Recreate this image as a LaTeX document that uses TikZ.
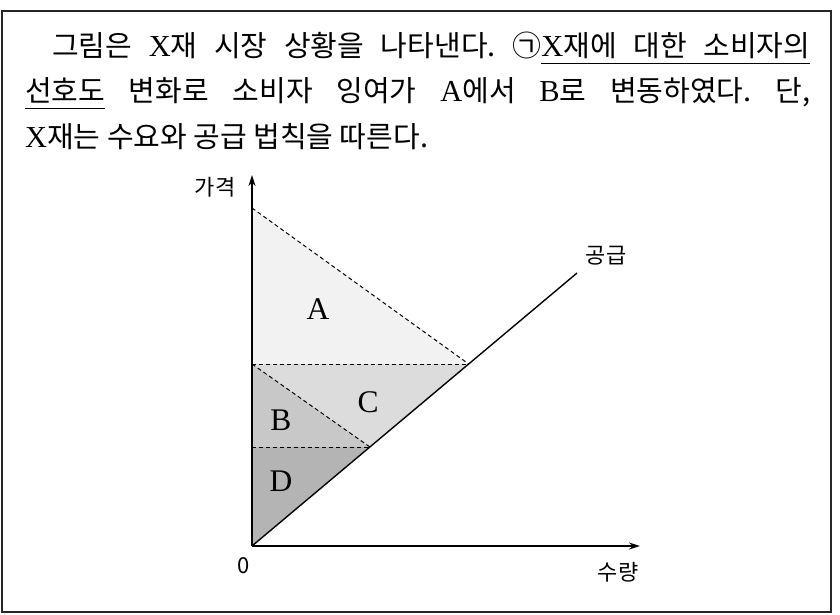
\documentclass[tikz,border=0pt]{standalone}
\usepackage{fontspec}
\newfontfamily\kr{Noto Sans CJK KR}
\newfontfamily\lat[Scale=1.05]{Liberation Serif}
\usetikzlibrary{arrows.meta}
% underlined word and stretchable underlined space
\newcommand\ulw[1]{\setbox0\hbox{#1}\rlap{\rule[-8pt]{\wd0}{1.3pt}}\box0\relax}
\newcommand\uls{\leaders\hrule height -6.7pt depth 8pt\hskip\fontdimen2\font plus \fontdimen3\font minus \fontdimen4\font\relax}
\definecolor{fillA}{HTML}{F2F2F2}
\definecolor{fillC}{HTML}{DCDCDC}
\definecolor{fillB}{HTML}{C8C8C8}
\definecolor{fillD}{HTML}{B4B4B4}
\frenchspacing
\tikzset{
  txtline/.style={anchor=base west, inner sep=0pt, font=\kr\fontsize{29}{33}\selectfont\frenchspacing},
  axis/.style={line width=1.7pt, -{Stealth[length=11pt,width=7pt]}},
  dashline/.style={line width=1pt, dash pattern=on 4pt off 3pt},
  supplyline/.style={line width=1.4pt},
  arealabel/.style={inner sep=0pt, font=\lat\fontsize{30}{34}\selectfont},
  axislabel/.style={inner sep=0pt, font=\kr\fontsize{22}{26}\selectfont},
  frame/.style={line width=1.8pt, black!85}
}
\begin{document}
\begin{tikzpicture}[x=1pt,y=-1pt]
\useasboundingbox (0,0) rectangle (840,614);
\fill[white] (0,0) rectangle (840,614);
\draw[frame] (2,11) rectangle (831,612);

% text
\node[txtline] (l1) at (52,56) {\makebox[758pt][s]{그림은 {\lat X}재 시장 상황을 나타낸다. ㉠\ulw{{\lat X}재에}\uls\ulw{대한}\uls\ulw{소비자의}}};
\node[txtline] (l2) at (25,101) {\makebox[785pt][s]{\ulw{선호도} 변화로 소비자 잉여가 {\lat A}에서 {\lat B}로 변동하였다. 단,}};
\node[txtline] (l3) at (25,147) {{\lat X}재는 수요와 공급 법칙을 따른다.};

% coordinates
\coordinate (O) at (252,546);
\coordinate (Ytop) at (252,175);
\coordinate (Xend) at (640,546);
\coordinate (Dtop) at (252,208);
\coordinate (P1) at (252,364);
\coordinate (P2) at (252,447);
\coordinate (E1) at (468.7,364);
\coordinate (E2) at (369.9,447);
\coordinate (S) at (577,273);

% fills
\fill[fillA] (Dtop) -- (E1) -- (P1) -- cycle;
\fill[fillC] (P1) -- (E1) -- (E2) -- (P2) -- cycle;
\fill[fillB] (P1) -- (E2) -- (P2) -- cycle;
\fill[fillD] (P2) -- (E2) -- (O) -- cycle;

% dashed lines
\draw[dashline] (Dtop) -- (E1);
\draw[dashline] (P1) -- (E1);
\draw[dashline] (P1) -- (E2);
\draw[dashline] (P2) -- (E2);

% supply
\draw[supplyline] (O) -- (S);

% axes
\draw[axis] (O) -- (Ytop);
\draw[axis] (O) -- (Xend);

% labels
\node[axislabel] (price) at (215,187) {가격};
\node[axislabel] (supply) at (606,256) {공급};
\node[axislabel] (zero) at (244,566) {0};
\node[axislabel] (qty) at (618,572) {수량};
\node[arealabel] (A) at (318,309) {A};
\node[arealabel] (B) at (281,420) {B};
\node[arealabel] (C) at (368,402) {C};
\node[arealabel] (D) at (281,481) {D};
\end{tikzpicture}
\end{document}
